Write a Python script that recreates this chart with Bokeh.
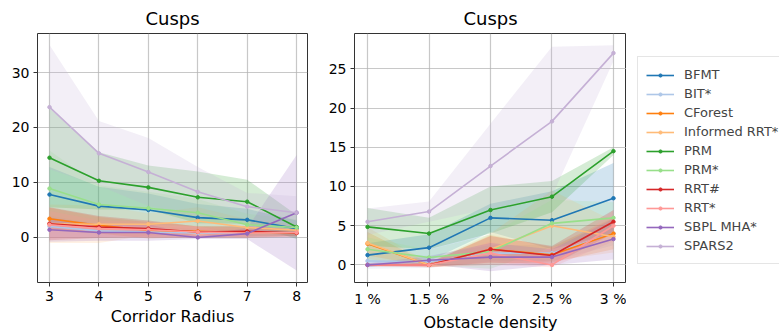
from bokeh.plotting import figure
from bokeh.layouts import row
from bokeh.models import Range1d, Legend, LegendItem, FixedTicker
from bokeh.embed import file_html
from bokeh.resources import INLINE

names = ["BFMT", "BIT*", "CForest", "Informed RRT*", "PRM", "PRM*", "RRT#", "RRT*", "SBPL MHA*", "SPARS2"]
colors = ["#1f77b4", "#aec7e8", "#ff7f0e", "#ffbb78", "#2ca02c", "#98df8a", "#d62728", "#ff9896", "#9467bd", "#c5b0d5"]

# Left panel: corridor radius
radius = [3, 4, 5, 6, 7, 8]
left_mean = {
    "BFMT": [7.8, 5.7, 5.0, 3.6, 3.2, 1.6],
    "BIT*": [2.0, 1.2, 1.0, 0.8, 0.8, 0.8],
    "CForest": [3.4, 2.2, 1.3, 1.1, 0.9, 0.8],
    "Informed RRT*": [2.5, 2.4, 2.4, 3.0, 1.8, 1.3],
    "PRM": [14.5, 10.3, 9.1, 7.3, 6.5, 1.9],
    "PRM*": [8.9, 6.0, 5.3, 4.5, 2.3, 1.8],
    "RRT#": [2.5, 1.9, 1.6, 1.0, 1.1, 0.8],
    "RRT*": [2.3, 1.6, 1.4, 1.0, 0.8, 0.9],
    "SBPL MHA*": [1.4, 0.9, 0.9, 0.0, 0.7, 4.5],
    "SPARS2": [23.7, 15.3, 11.9, 8.3, 5.6, 4.5],
}
left_std = {
    "BFMT": [5.0, 3.5, 3.0, 2.5, 2.0, 1.5],
    "BIT*": [2.0, 1.2, 1.0, 0.8, 0.8, 0.6],
    "CForest": [2.0, 1.5, 1.5, 1.0, 1.0, 0.6],
    "Informed RRT*": [3.5, 3.4, 2.0, 2.5, 1.5, 1.0],
    "PRM": [9.0, 5.2, 4.0, 4.7, 4.0, 2.2],
    "PRM*": [6.9, 3.5, 3.0, 2.5, 2.0, 1.5],
    "RRT#": [3.0, 2.0, 1.5, 1.0, 1.0, 0.6],
    "RRT*": [2.5, 1.5, 1.5, 1.0, 0.8, 0.8],
    "SBPL MHA*": [2.2, 1.5, 1.5, 0.3, 1.0, 10.5],
    "SPARS2": [11.3, 5.9, 6.2, 4.5, 2.5, 3.0],
}

# Right panel: obstacle density
density = [1, 1.5, 2, 2.5, 3]
density_labels = ["1 %", "1.5 %", "2 %", "2.5 %", "3 %"]
right_mean = {
    "BFMT": [1.25, 2.2, 6.0, 5.7, 8.5],
    "BIT*": [0.5, 0.4, 1.5, 1.5, 4.0],
    "CForest": [2.7, 0.0, 2.0, 1.3, 4.0],
    "Informed RRT*": [2.8, 0.0, 2.0, 5.0, 3.6],
    "PRM": [4.85, 4.0, 7.0, 8.7, 14.5],
    "PRM*": [2.0, 0.95, 1.7, 5.3, 6.0],
    "RRT#": [0.0, 0.0, 2.0, 1.2, 5.5],
    "RRT*": [0.0, 0.0, 1.5, 0.0, 5.0],
    "SBPL MHA*": [0.0, 0.6, 1.0, 1.0, 3.3],
    "SPARS2": [5.5, 6.8, 12.6, 18.3, 27.0],
}
right_std = {
    "BFMT": [1.5, 1.7, 1.8, 3.7, 4.5],
    "BIT*": [1.0, 0.8, 1.0, 1.0, 1.5],
    "CForest": [1.5, 0.2, 1.8, 1.0, 2.0],
    "Informed RRT*": [2.0, 0.3, 2.0, 4.5, 2.0],
    "PRM": [2.4, 2.0, 3.0, 2.0, 0.5],
    "PRM*": [1.5, 1.0, 2.2, 3.0, 2.0],
    "RRT#": [0.2, 0.3, 1.7, 1.2, 1.5],
    "RRT*": [0.0, 0.3, 1.5, 0.3, 2.0],
    "SBPL MHA*": [0.2, 0.5, 1.8, 1.0, 2.6],
    "SPARS2": [1.7, 1.3, 5.4, 9.5, 1.0],
}

FONT = "DejaVu Sans"


def style(p, xlabel):
    p.title.text_font = FONT
    p.title.text_font_size = "18px"
    p.title.text_font_style = "normal"
    p.title.align = "center"
    p.title.text_color = "black"
    p.title.offset = 0
    p.outline_line_color = "#333333"
    p.outline_line_width = 1
    for ax in (p.xaxis, p.yaxis):
        ax.major_label_text_font = FONT
        ax.major_label_text_font_size = "14px"
        ax.major_label_text_color = "black"
        ax.axis_line_color = None
        ax.minor_tick_line_color = None
        ax.major_tick_line_color = "#333333"
        ax.major_tick_out = 4
        ax.major_tick_in = 0
    p.xaxis.axis_label = xlabel
    p.xaxis.axis_label_text_font = FONT
    p.xaxis.axis_label_text_font_size = "16px"
    p.xaxis.axis_label_text_font_style = "normal"
    p.xaxis.axis_label_text_color = "black"
    p.xaxis.axis_label_standoff = 3
    p.xaxis.major_label_standoff = 4
    p.yaxis.major_label_standoff = 4
    p.grid.grid_line_color = "#b0b0b0"
    p.grid.grid_line_alpha = 0.7
    p.grid.grid_line_width = 1.2


def draw(p, xs, means, stds):
    for name, col in zip(names, colors):
        m = means[name]
        s = stds[name]
        lo = [a - b for a, b in zip(m, s)]
        hi = [a + b for a, b in zip(m, s)]
        p.varea(x=xs, y1=lo, y2=hi, fill_color=col, fill_alpha=0.2)
    for name, col in zip(names, colors):
        m = means[name]
        p.line(xs, m, line_color=col, line_width=1.6)
        p.scatter(xs, m, size=3.5, fill_color=col, line_color=col)


p1 = figure(width=318, height=334, output_backend="svg", toolbar_location=None,
            title="Cusps", x_range=Range1d(2.757, 8.22), y_range=Range1d(-8.2, 37.1),
            min_border_left=37, min_border_right=11, min_border_top=33, min_border_bottom=46)
style(p1, "Corridor Radius")
p1.xaxis.ticker = FixedTicker(ticks=radius)
p1.yaxis.ticker = FixedTicker(ticks=[0, 10, 20, 30])
draw(p1, radius, left_mean, left_std)

p2 = figure(width=308, height=334, output_backend="svg", toolbar_location=None,
            title="Cusps", x_range=Range1d(0.894, 3.106), y_range=Range1d(-2.24, 29.5),
            min_border_left=36, min_border_right=0, min_border_top=33, min_border_bottom=46)
style(p2, "Obstacle density")
p2.xaxis.ticker = FixedTicker(ticks=density)
p2.xaxis.major_label_overrides = {d: l for d, l in zip(density, density_labels)}
p2.yaxis.ticker = FixedTicker(ticks=[0, 5, 10, 15, 20, 25])
draw(p2, density, right_mean, right_std)

# Legend panel
p3 = figure(width=153, height=334, output_backend="svg", toolbar_location=None,
            x_range=Range1d(0, 1), y_range=Range1d(0, 1), x_axis_type=None, y_axis_type=None,
            min_border_left=9, min_border_top=33, min_border_right=0, min_border_bottom=46,
            outline_line_color=None)
p3.grid.visible = False
items = []
for name, col in zip(names, colors):
    l = p3.line([float("nan")], [float("nan")], line_color=col, line_width=1.6)
    c = p3.scatter([float("nan")], [float("nan")], size=3.5, fill_color=col, line_color=col)
    items.append(LegendItem(label=name, renderers=[l, c]))

legend = Legend(items=items, location=(2, 18))
legend.label_text_font = FONT
legend.label_text_font_size = "13px"
legend.label_height = 19
legend.glyph_height = 8
legend.glyph_width = 28
legend.spacing = 0
legend.padding = 8
legend.margin = 0
legend.label_standoff = 10
legend.border_line_color = "#cccccc"
legend.border_line_width = 1
legend.background_fill_alpha = 0.8
p3.add_layout(legend, "center")

layout = row(p1, p2, p3)
open("out.html", "w").write(file_html(layout, INLINE))
